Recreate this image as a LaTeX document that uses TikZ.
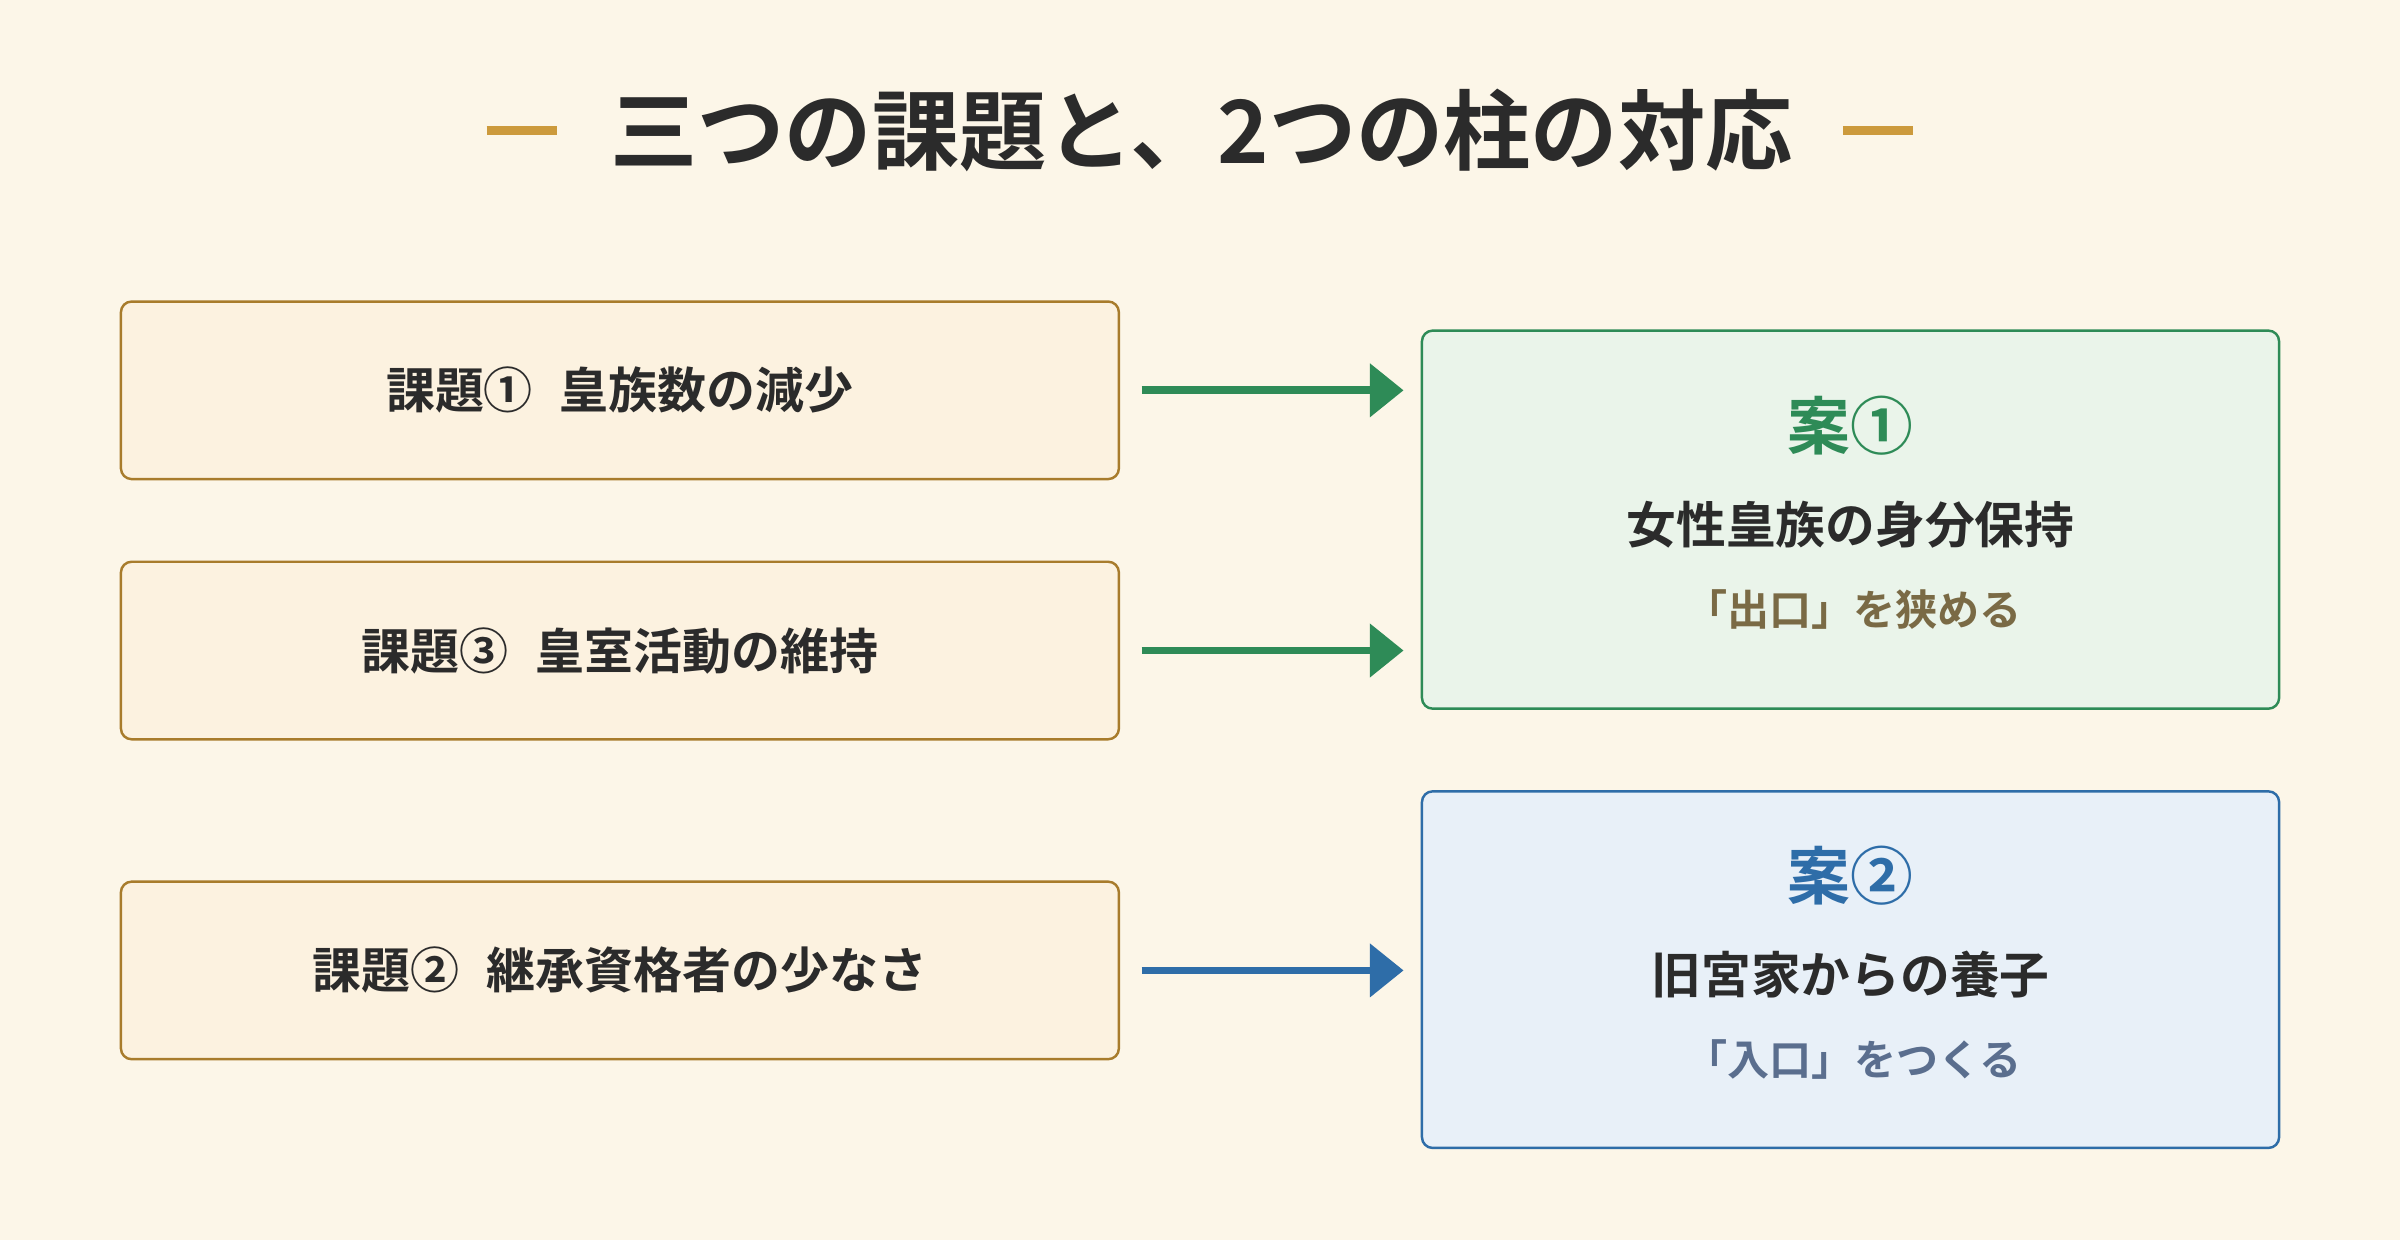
\documentclass[tikz,border=0pt]{standalone}
\usepackage{fontspec}
\newfontfamily\cjk{Noto Sans CJK JP}[BoldFont={Noto Sans CJK JP Bold}]
\usetikzlibrary{arrows.meta}
\definecolor{bg}{HTML}{FCF6E8}
\definecolor{lfill}{HTML}{FCF2E0}
\definecolor{lborder}{HTML}{A87C2C}
\definecolor{gfill}{HTML}{EAF4EA}
\definecolor{gline}{HTML}{2E8B57}
\definecolor{bfill}{HTML}{E8F0F8}
\definecolor{bline}{HTML}{2E6DA8}
\definecolor{gold}{HTML}{CC9A3C}
\definecolor{txt}{HTML}{2B2B2B}
\definecolor{sub1}{HTML}{7A6A45}
\definecolor{sub2}{HTML}{5A6E8E}
\newcommand{\gap}{\hspace{0.55em}}
\begin{document}
\begin{tikzpicture}[x=1pt,y=-1pt,
  lbox/.style={draw=lborder,fill=lfill,line width=1.6pt,rounded corners=7pt,minimum width=652pt,minimum height=116pt,font=\cjk\bfseries\fontsize{32}{36}\selectfont,text=txt},
  rbox/.style={line width=1.6pt,rounded corners=7pt,minimum width=560pt},
  arr/.style={line width=5pt,-{Triangle[length=22pt,width=34pt]}},
  ttl/.style={font=\cjk\bfseries\fontsize{41}{46}\selectfont},
  mid/.style={font=\cjk\bfseries\fontsize{32.5}{36}\selectfont,text=txt},
  sub/.style={font=\cjk\bfseries\fontsize{27.5}{31}\selectfont}]
\fill[bg] (0,0) rectangle (1568,810);
\useasboundingbox (0,0) rectangle (1568,810);
\node[font=\cjk\bfseries\fontsize{57}{62}\selectfont,text=txt] (title) at (785,85) {三つの課題と、2つの柱の対応};
\coordinate (d1a) at (318,85); \coordinate (d1b) at (364,85);
\coordinate (d2a) at (1204,85); \coordinate (d2b) at (1250,85);
\draw[gold,line width=6pt] (d1a) -- (d1b);
\draw[gold,line width=6pt] (d2a) -- (d2b);
\node[lbox] (k1) at (405,255) {課題①\gap 皇族数の減少};
\node[lbox] (k3) at (405,425) {課題③\gap 皇室活動の維持};
\node[lbox] (k2) at (405,634) {課題②\gap 継承資格者の少なさ};
\node[rbox,draw=gline,fill=gfill,minimum height=247pt] (p1) at (1209,339.5) {};
\node[rbox,draw=bline,fill=bfill,minimum height=233pt] (p2) at (1209,633.5) {};
\node[ttl,text=gline] (p1t) at (1209,278) {案①};
\node[mid] (p1m) at (1209,343) {女性皇族の身分保持};
\node[sub,text=sub1] (p1s) at (1211,398) {「出口」を狭める};
\node[ttl,text=bline] (p2t) at (1209,572) {案②};
\node[mid] (p2m) at (1209,637) {旧宮家からの養子};
\node[sub,text=sub2] (p2s) at (1211,692) {「入口」をつくる};
\coordinate (e1) at (917,255); \coordinate (e3) at (917,425); \coordinate (e2) at (917,634);
\draw[arr,gline] (k1.east) ++(14,0) -- (e1);
\draw[arr,gline] (k3.east) ++(14,0) -- (e3);
\draw[arr,bline] (k2.east) ++(14,0) -- (e2);
\end{tikzpicture}
\end{document}
